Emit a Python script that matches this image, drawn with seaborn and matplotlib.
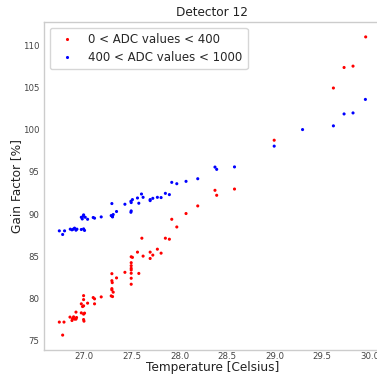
import numpy as np
import pandas as pd
import matplotlib
matplotlib.use("Agg")
import matplotlib.pyplot as plt
import seaborn as sns

# Low-ADC group: temperature [C] and gain factor [%]
temp_low = [26.738, 26.787, 26.773, 26.850, 26.871, 26.877, 26.888, 26.898, 26.913, 26.919,
            26.913, 26.969, 26.982, 26.993, 26.993, 26.993, 26.969, 26.993, 27.003, 26.993,
            26.997, 27.035, 27.094, 27.108, 27.108, 27.178, 27.283, 27.297, 27.290, 27.290,
            27.294, 27.290, 27.290, 27.304, 27.339, 27.427, 27.493, 27.493, 27.493, 27.493,
            27.493, 27.493, 27.493, 27.493, 27.506, 27.573, 27.559, 27.605, 27.618, 27.692,
            27.692, 27.720, 27.768, 27.807, 27.852, 27.894, 27.919, 27.972, 28.069, 28.192,
            28.373, 28.391, 28.578, 28.995, 29.617, 29.729, 29.823, 29.956]
gain_low = [77.22, 77.22, 75.68, 77.81, 77.41, 77.64, 77.84, 77.57, 77.57, 77.76,
            78.40, 79.38, 79.06, 79.88, 80.35, 79.14, 78.31, 78.16, 78.28, 77.52,
            77.33, 79.46, 80.12, 79.97, 79.38, 80.20, 80.32, 80.24, 81.18, 81.03,
            81.89, 82.12, 82.95, 80.76, 82.45, 83.11, 84.95, 84.25, 83.90, 83.59,
            83.39, 83.00, 82.41, 81.70, 84.88, 82.98, 85.50, 87.15, 85.03, 85.50,
            84.75, 85.15, 85.85, 85.38, 87.15, 87.03, 89.39, 88.48, 90.07, 90.97,
            92.82, 92.23, 92.97, 98.75, 104.93, 107.36, 107.52, 110.98]

# High-ADC group
temp_high = [26.738, 26.773, 26.793, 26.853, 26.871, 26.885, 26.898, 26.913, 26.923, 26.969,
             26.979, 26.990, 26.993, 27.010, 26.969, 26.993, 27.003, 27.035, 27.094, 27.108,
             27.178, 27.290, 27.283, 27.294, 27.304, 27.297, 27.339, 27.427, 27.490, 27.493,
             27.490, 27.493, 27.506, 27.559, 27.573, 27.601, 27.618, 27.692, 27.692, 27.720,
             27.768, 27.807, 27.852, 27.894, 27.919, 27.972, 28.069, 28.192, 28.373, 28.391,
             28.578, 28.995, 29.293, 29.617, 29.729, 29.823, 29.953]
gain_high = [88.02, 87.59, 88.02, 88.22, 88.14, 88.22, 88.34, 88.10, 88.22, 89.63,
             89.43, 89.75, 89.91, 89.63, 88.18, 88.25, 88.07, 89.39, 89.60, 89.52,
             89.67, 91.25, 89.83, 89.75, 89.95, 89.67, 90.31, 91.17, 90.22, 90.38,
             91.52, 91.37, 91.72, 91.91, 91.29, 92.38, 91.99, 91.72, 91.60, 91.87,
             91.99, 91.96, 92.46, 92.31, 93.76, 93.60, 93.88, 94.19, 95.57, 95.30,
             95.59, 98.05, 100.01, 100.45, 101.86, 101.98, 103.58]

label_low = "0 < ADC values < 400"
label_high = "400 < ADC values < 1000"

df = pd.DataFrame({
    "Temperature": temp_low + temp_high,
    "Gain": gain_low + gain_high,
    "Range": [label_low] * len(temp_low) + [label_high] * len(temp_high),
})

sns.set_style("whitegrid")
plt.rcParams["font.family"] = ["DejaVu Sans"]

fig = plt.figure(figsize=(3.77, 3.74), dpi=100)
ax = fig.add_axes([44 / 377, 24 / 374, 337 / 377, 328 / 374])

sns.scatterplot(data=df, x="Temperature", y="Gain", hue="Range",
                palette={label_low: "red", label_high: "blue"},
                s=5, linewidth=0, ax=ax)

ax.grid(False)
for sp in ax.spines.values():
    sp.set_color("#cccccc")
    sp.set_linewidth(1.0)

ax.set_xticks([27.0, 27.5, 28.0, 28.5, 29.0, 29.5, 30.0])
ax.set_yticks([75, 80, 85, 90, 95, 100, 105, 110])
ax.tick_params(axis="both", labelsize=6.2, labelcolor="#444444", length=0)
ax.tick_params(axis="x", pad=1.5)
ax.tick_params(axis="y", pad=3.5)

ax.set_xlabel("Temperature [Celsius]", fontsize=8.7, color="#222222", labelpad=0)
ax.set_ylabel("Gain Factor [%]", fontsize=8.7, color="#222222", labelpad=0)
ax.set_title("Detector 12", fontsize=8.7, color="#222222", pad=4)

ax.legend(loc="upper left", fontsize=8.5, markerscale=1.0, frameon=True,
          handletextpad=0.8, borderpad=0.45, labelspacing=0.4)

fig.savefig("out.png", dpi=100)
